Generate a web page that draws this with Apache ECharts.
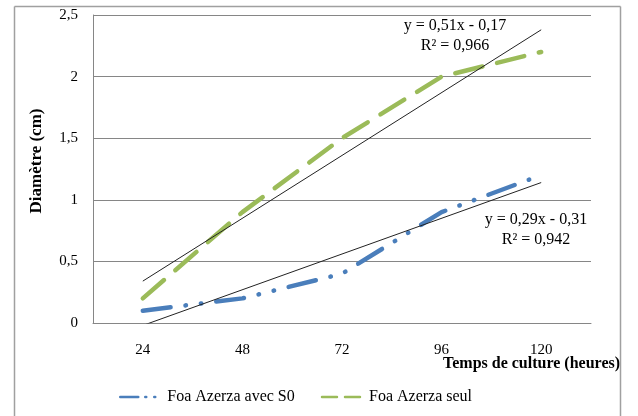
<!DOCTYPE html>
<html>
<head>
<meta charset="utf-8">
<script src="https://cdn.jsdelivr.net/npm/echarts@6/dist/echarts.min.js"></script>
<style>
  html, body { margin: 0; padding: 0; background: #fff; }
  #chart { width: 638px; height: 416px; }
</style>
</head>
<body>
<div id="chart"></div>
<script>
const hours = ["24", "48", "72", "96", "120"]
const avecS0 = [0.1, 0.2, 0.4, 0.9, 1.2]
const seul = [0.2, 0.9, 1.5, 2.0, 2.2]
// trend line ends (first and last category)
const trendSeul = [0.34, 2.38]
const trendAvecS0 = [-0.02, 1.14]
const yTicks = [0, 0.5, 1, 1.5, 2, 2.5]

const serif = "Liberation Serif"
const blue = "#4a7ebb"
const green = "#9bbb59"
const frame = "#a0a0a0"

let myChart = echarts.init(document.getElementById("chart"))
myChart.setOption({
    animation: false,
    textStyle: { fontFamily: serif },
    grid: { left: 93, right: 47, top: 15, bottom: 93, outerBoundsMode: "none", containLabel: false },
    legend: {
        data: [
            { name: "Foa Azerza avec S0", lineStyle: { type: [18, 7, 1, 8, 1, 8], width: 2.5 } },
            { name: "Foa Azerza seul", lineStyle: { type: [15, 8, 15, 8], width: 2.5 } },
        ],
        left: 119,
        top: 389,
        padding: 0,
        itemGap: 26,
        itemWidth: 38,
        itemHeight: 10,
        itemStyle: { color: "transparent", borderWidth: 0 },
        textStyle: { fontFamily: serif, fontSize: 16, color: "#000", padding: [0, 0, 0, 4] },
    },
    xAxis: {
        type: "category",
        data: hours,
        boundaryGap: true,
        axisTick: { show: false },
        axisLine: { lineStyle: { color: "#868686" } },
        axisLabel: { margin: 20, fontSize: 15, color: "#000", fontFamily: serif },
    },
    yAxis: {
        type: "value",
        min: yTicks[0],
        max: yTicks[yTicks.length - 1],
        interval: 0.5,
        axisLine: { show: true, lineStyle: { color: "#868686" } },
        axisTick: { show: false },
        splitLine: { lineStyle: { color: "#868686" } },
        axisLabel: {
            margin: 15, fontSize: 15, color: "#000", fontFamily: serif,
            formatter: (v) => String(v).replace(".", ","),
        },
        name: "Diamètre (cm)",
        nameLocation: "middle",
        nameRotate: 90,
        nameGap: 48,
        nameTextStyle: { fontFamily: serif, fontSize: 17, fontWeight: "bold", color: "#000", padding: [0, 0, 0, 16] },
    },
    series: [
        {
            name: "Foa Azerza avec S0",
            type: "line",
            data: avecS0,
            symbol: "none",
            color: blue,
            lineStyle: { width: 4.5, color: blue, type: [28, 15, 0.5, 15, 0.5, 15], cap: "round" },
            z: 3,
        },
        {
            name: "Foa Azerza seul",
            type: "line",
            data: seul,
            symbol: "none",
            color: green,
            lineStyle: { width: 4.5, color: green, type: [28, 15], cap: "round" },
            z: 3,
        },
        {
            name: "trend seul",
            type: "line",
            data: [[hours[0], trendSeul[0]], [hours[hours.length - 1], trendSeul[1]]],
            symbol: "none",
            lineStyle: { width: 1, color: "#222" },
            z: 4,
        },
        {
            name: "trend avec S0",
            type: "line",
            data: [[hours[0], trendAvecS0[0]], [hours[hours.length - 1], trendAvecS0[1]]],
            symbol: "none",
            lineStyle: { width: 1, color: "#222" },
            z: 4,
        },
    ],
    graphic: [
        { type: "line", shape: { x1: 14.5, y1: 6.5, x2: 620.5, y2: 6.5 }, style: { stroke: frame, lineWidth: 1.5 }, z: 100 },
        { type: "line", shape: { x1: 14.5, y1: 6.5, x2: 14.5, y2: 416 }, style: { stroke: frame, lineWidth: 1.5 }, z: 100 },
        { type: "line", shape: { x1: 620.5, y1: 6.5, x2: 620.5, y2: 416 }, style: { stroke: frame, lineWidth: 1.5 }, z: 100 },
        {
            type: "text", x: 443, y: 364,
            style: { text: "Temps de culture (heures)", font: "bold 16px " + serif, fill: "#000", verticalAlign: "middle" },
        },
        {
            type: "text", x: 455, y: 36,
            style: { text: "y = 0,51x - 0,17\nR² = 0,966", font: "16px " + serif, fill: "#000", align: "center", verticalAlign: "middle", lineHeight: 20 },
        },
        {
            type: "text", x: 536, y: 230,
            style: { text: "y = 0,29x - 0,31\nR² = 0,942", font: "16px " + serif, fill: "#000", align: "center", verticalAlign: "middle", lineHeight: 20 },
        },
    ],
})
</script>
</body>
</html>
